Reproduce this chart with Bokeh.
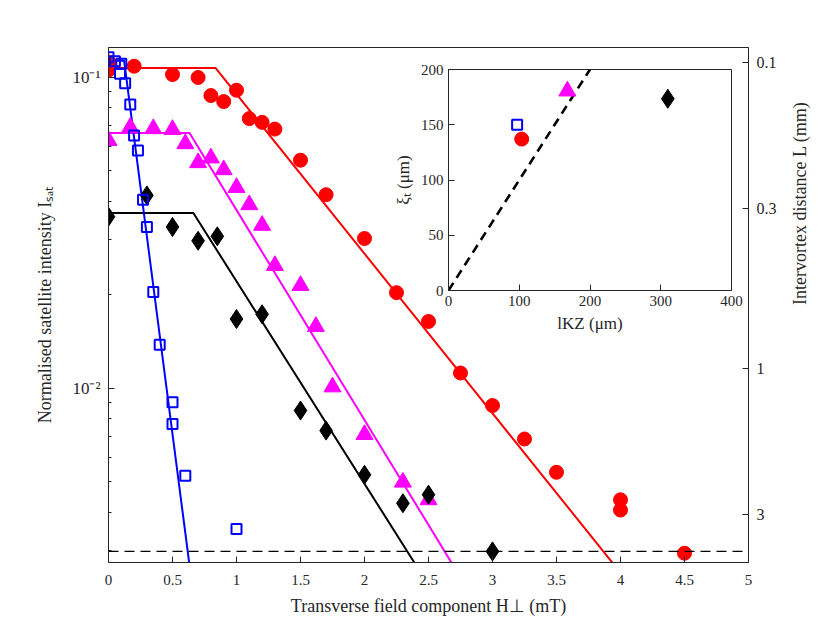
import numpy as np
from bokeh.plotting import figure
from bokeh.models import Range1d, LogAxis, LogScale, FixedTicker, CustomJSTickFormatter, Span
from bokeh.layouts import column
from bokeh.embed import file_html
from bokeh.resources import INLINE

FONT = "Liberation Serif"
AXC = "#262626"

# ---------------- data (main panel) ----------------
red_H = [0, 0, 0.2, 0.5, 0.7, 0.8, 0.9, 1.0, 1.1, 1.2, 1.3, 1.5, 1.7, 2.0, 2.25, 2.5, 2.75, 3.0, 3.25, 3.5, 4.0, 4.0, 4.5]
red_I = [0.1119, 0.1054, 0.1085, 0.102, 0.0998, 0.0873, 0.0835, 0.0908, 0.0736, 0.0716, 0.0681, 0.0541,
         0.0419, 0.0303, 0.0203, 0.0164, 0.0112, 0.0088, 0.00687, 0.00537, 0.00438, 0.00406, 0.00295]

mag_H = [0, 0.17, 0.35, 0.5, 0.6, 0.7, 0.8, 0.9, 1.0, 1.1, 1.2, 1.3, 1.5, 1.62, 1.75, 2.0, 2.3, 2.5]
mag_I = [0.0626, 0.069, 0.0683, 0.0679, 0.0611, 0.0531, 0.055, 0.0504, 0.0442, 0.0389, 0.0334, 0.0248,
         0.0214, 0.0158, 0.0101, 0.0071, 0.00499, 0.00438]

blk_H = [0, 0.3, 0.5, 0.7, 0.85, 1.0, 1.2, 1.5, 1.7, 2.0, 2.3, 2.5, 3.0]
blk_I = [0.0356, 0.0417, 0.033, 0.0298, 0.0308, 0.0167, 0.0173, 0.00848, 0.00731, 0.00527, 0.00427, 0.00455, 0.00299]

blu_H = [0, 0.05, 0.1, 0.09, 0.13, 0.17, 0.2, 0.23, 0.27, 0.3, 0.35, 0.4, 0.5, 0.5, 0.6, 1.0]
blu_I = [0.1159, 0.1126, 0.1104, 0.1026, 0.0956, 0.0817, 0.065, 0.0581, 0.0404, 0.033, 0.0204, 0.0138,
         0.00901, 0.00768, 0.00523, 0.00353]

# fit parameters: plateau intensity, knee field (mT), decay (decades per mT)
red_fit = (0.107, 0.837, -0.513)
mag_fit = (0.0662, 0.633, -0.675)
blk_fit = (0.0366, 0.663, -0.651)
blu_fit = (0.113, 0.122, -3.175)

noise_floor = 0.00299

x_ticks = [0, 0.5, 1, 1.5, 2, 2.5, 3, 3.5, 4, 4.5, 5]
y_major = [0.01, 0.1]
y_minor = [0.003, 0.004, 0.005, 0.006, 0.007, 0.008, 0.009, 0.02, 0.03, 0.04, 0.05, 0.06, 0.07, 0.08, 0.09]
L_ticks = [0.1, 0.3, 1, 3]

# ---------------- data (inset) ----------------
lkz = [97, 103.5, 168, 310]       # blue, red, magenta, black
xi_t = [150, 137, 180.5, 173.5]
guide_l = [0, 200]
guide_xi = [0, 200]
inset_x_ticks = [0, 100, 200, 300, 400]
inset_y_ticks = [0, 50, 100, 150, 200]

Y_MIN, Y_MAX = 0.002754, 0.1246
L_BOTTOM, L_TOP = 4.30, 0.0891


def fit_line(params):
    plateau, knee, slope = params
    lo = np.log10(Y_MIN) - 0.3
    h_end = knee + (lo - np.log10(plateau)) / slope
    return [0, knee, h_end], [plateau, plateau, 10 ** lo]


def style_axis(ax, label_size="15px", title_size="18px"):
    ax.major_tick_in = 6
    ax.major_tick_out = 0
    ax.minor_tick_in = 3
    ax.minor_tick_out = 0
    ax.axis_line_color = AXC
    ax.major_tick_line_color = AXC
    ax.minor_tick_line_color = AXC
    ax.major_label_text_font = FONT
    ax.major_label_text_font_size = label_size
    ax.major_label_text_color = AXC
    ax.axis_label_text_font = FONT
    ax.axis_label_text_font_size = title_size
    ax.axis_label_text_font_style = "normal"
    ax.axis_label_text_color = AXC


BL, BT, BR, BB = 108, 47, 78, 66
main = figure(x_range=Range1d(0, 5), y_range=Range1d(Y_MIN, Y_MAX), y_axis_type="log",
              frame_width=640, frame_height=515,
              min_border_left=BL, min_border_right=BR, min_border_top=BT, min_border_bottom=BB,
              output_backend="svg", toolbar_location=None)
main.xgrid.visible = False
main.ygrid.visible = False
main.outline_line_color = AXC
main.outline_line_alpha = 1

xa = main.xaxis[0]
xa.ticker = FixedTicker(ticks=x_ticks, minor_ticks=[])
xa.formatter = CustomJSTickFormatter(code="return String(tick)")
xa.axis_label = "Transverse field component H⊥ (mT)"
style_axis(xa)
xa.major_label_standoff = 12
xa.axis_label_standoff = 8

ya = main.yaxis[0]
ya.ticker = FixedTicker(ticks=y_major, minor_ticks=y_minor)
ya.formatter = CustomJSTickFormatter(code="""
const e = Math.round(Math.log10(tick));
const sup = {"-": "\u207b", "0": "\u2070", "1": "\u00b9", "2": "\u00b2", "3": "\u00b3"};
return "10" + String(e).split("").map(c => sup[c]).join("");
""")
ya.axis_label = "Normalised satellite intensity I\u209b\u2090\u209c"
style_axis(ya, label_size="17px")
ya.major_label_standoff = 8
ya.axis_label_standoff = 14

main.extra_y_ranges = {"L": Range1d(start=L_BOTTOM, end=L_TOP)}
main.extra_y_scales = {"L": LogScale()}
ra = LogAxis(y_range_name="L", ticker=FixedTicker(ticks=L_ticks, minor_ticks=[]),
             formatter=CustomJSTickFormatter(code="return String(tick)"),
             axis_label="Intervortex distance L (mm)")
style_axis(ra, label_size="16px")
ra.major_label_standoff = 8
ra.axis_label_standoff = 20
try:
    ra.axis_label_orientation = np.pi / 2
except Exception:
    pass
main.add_layout(ra, "right")

main.add_layout(Span(location=noise_floor, dimension="width", line_color="black",
                     line_width=1.2, line_dash="10 6"))

series = [
    (red_H, red_I, red_fit, "#ff0000", "circle"),
    (mag_H, mag_I, mag_fit, "#ff00ff", "triangle"),
    (blk_H, blk_I, blk_fit, "#000000", "diamond"),
    (blu_H, blu_I, blu_fit, "#0000ff", "square"),
]
for H, I, fp, col, mk in series:
    fx, fy = fit_line(fp)
    main.line(fx, fy, line_color=col, line_width=2)
for H, I, fp, col, mk in series:
    if mk == "circle":
        main.scatter(H, I, marker="circle", size=14, fill_color=col, line_color=col)
    elif mk == "triangle":
        main.scatter(H, I, marker="triangle", size=17, fill_color=col, line_color=col)
    elif mk == "diamond":
        main.scatter(H, I, marker="diamond", size=19, fill_color=col, line_color=col)
    else:
        main.scatter(H, I, marker="square", size=10, fill_color=None, line_color=col, line_width=2)

# ---------------- inset ----------------
IT = 6
inset = figure(x_range=Range1d(0, 400), y_range=Range1d(0, 200),
               frame_width=283, frame_height=221,
               min_border_left=BL, min_border_bottom=56, min_border_top=IT, min_border_right=BR,
               output_backend="svg", toolbar_location=None)
# the column aligns the inset's left border with the main figure's (BL)
inset.styles = {"position": "absolute", "left": f"{448 - BL}px", "top": f"{69 - IT}px"}
inset.border_fill_alpha = 0
inset.background_fill_color = "white"
inset.xgrid.visible = False
inset.ygrid.visible = False
inset.outline_line_color = AXC
ix = inset.xaxis[0]
ix.ticker = FixedTicker(ticks=inset_x_ticks, minor_ticks=[])
ix.axis_label = "lKZ (μm)"
style_axis(ix, "15px", "17px")
iy = inset.yaxis[0]
iy.ticker = FixedTicker(ticks=inset_y_ticks, minor_ticks=[])
iy.axis_label = "ξ\u209c (μm)"
style_axis(iy, "15px", "17px")

inset.line(guide_l, guide_xi, line_color="black", line_width=2.6, line_dash="9 6")
inset.scatter([lkz[1]], [xi_t[1]], marker="circle", size=14, fill_color="#ff0000", line_color="#ff0000")
inset.scatter([lkz[2]], [xi_t[2]], marker="triangle", size=17, fill_color="#ff00ff", line_color="#ff00ff")
inset.scatter([lkz[3]], [xi_t[3]], marker="diamond", size=19, fill_color="#000000", line_color="#000000")
inset.scatter([lkz[0]], [xi_t[0]], marker="square", size=10, fill_color=None, line_color="#0000ff", line_width=2)

layout = column(main, inset, styles={"position": "relative"})

open("out.html", "w").write(file_html(layout, INLINE))
